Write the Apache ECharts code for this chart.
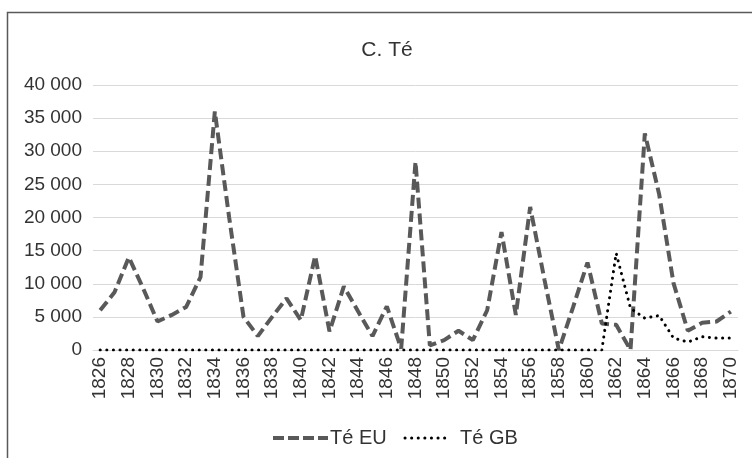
<!DOCTYPE html>
<html>
<head>
<meta charset="utf-8">
<script src="https://cdn.jsdelivr.net/npm/echarts@6/dist/echarts.min.js"></script>
<style>
html,body{margin:0;padding:0;background:#fff;}
#chart{width:752px;height:458px;}
</style>
</head>
<body>
<div id="chart"></div>
<script>
const years = [];
for (let y = 1826; y <= 1870; y++) years.push(String(y));

const teEU = [6000, 8700, 14000, 9300, 4300, 5300, 6500, 11000, 36000, 20000,
  5000, 2100, 5000, 7800, 4500, 14200, 2800, 9600, 5800, 2100,
  6600, 200, 28400, 700, 1500, 2900, 1500, 6000, 17800, 5300,
  21600, 10600, 0, 6500, 13200, 4000, 3800, 0, 32700, 23500,
  10100, 2900, 4100, 4300, 5800];

const teGB = [0, 0, 0, 0, 0, 0, 0, 0, 0, 0,
  0, 0, 0, 0, 0, 0, 0, 0, 0, 0,
  0, 0, 0, 0, 0, 0, 0, 0, 0, 0,
  0, 0, 0, 0, 0, 0, 14600, 6300, 4800, 5200,
  1800, 1200, 2000, 1800, 1800];

const seriesNames = ['Té EU', 'Té GB'];
const titleText = 'C. Té';

const font = 'Liberation Sans, Arial, sans-serif';
const euStyle = {color: '#595959', width: 4, dash: [11, 5]};
const gbStyle = {color: '#000', width: 3, dash: [0.1, 6.5]};

const chart = echarts.init(document.getElementById('chart'), null, {renderer: 'canvas'});
chart.setOption({
  animation: false,
  backgroundColor: '#fff',
  title: {
    text: titleText,
    left: 382, top: 35, textAlign: 'center',
    textStyle: {fontFamily: font, fontSize: 21, fontWeight: 'normal', color: '#333'}
  },
  grid: {left: 93, right: 14, top: 85, bottom: 108, containLabel: false},
  xAxis: {
    type: 'category',
    data: years,
    boundaryGap: true,
    axisLine: {show: true, lineStyle: {color: '#d9d9d9', width: 1}},
    axisTick: {show: false},
    axisLabel: {interval: 1, rotate: 90, margin: 7, fontFamily: font, fontSize: 19, color: '#333'}
  },
  yAxis: {
    type: 'value',
    min: 0, max: 40000, interval: 5000,
    axisLine: {show: false},
    axisTick: {show: false},
    splitLine: {lineStyle: {color: '#d9d9d9', width: 1}},
    axisLabel: {
      margin: 11, fontFamily: font, fontSize: 19, color: '#333',
      formatter: v => v === 0 ? '0' : String(v).replace(/\B(?=(\d{3})+(?!\d))/g, ' ')
    }
  },
  series: [
    {
      name: seriesNames[0], type: 'line', data: teEU,
      symbol: 'none', showSymbol: false,
      lineStyle: {color: euStyle.color, width: euStyle.width, type: euStyle.dash, cap: 'butt'}
    },
    {
      name: seriesNames[1], type: 'line', data: teGB,
      symbol: 'none', showSymbol: false, z: 3,
      lineStyle: {color: gbStyle.color, width: gbStyle.width, type: gbStyle.dash, cap: 'round'}
    }
  ],
  graphic: [
    {
      type: 'rect', silent: true, z: -1,
      shape: {x: 7.5, y: 12.5, width: 760, height: 460},
      style: {fill: null, stroke: '#595959', lineWidth: 1.5}
    },
    {
      type: 'line', silent: true,
      shape: {x1: 273, y1: 438, x2: 328, y2: 438},
      style: {stroke: euStyle.color, lineWidth: euStyle.width, lineDash: [11, 4]}
    },
    {
      type: 'text', silent: true, x: 330, y: 438,
      style: {text: seriesNames[0], font: '20px ' + font, fill: '#333', verticalAlign: 'middle', align: 'left'}
    },
    {
      type: 'line', silent: true,
      shape: {x1: 405, y1: 438, x2: 447, y2: 438},
      style: {stroke: gbStyle.color, lineWidth: gbStyle.width, lineDash: [0.1, 6.5], lineCap: 'round'}
    },
    {
      type: 'text', silent: true, x: 460, y: 438,
      style: {text: seriesNames[1], font: '20px ' + font, fill: '#333', verticalAlign: 'middle', align: 'left'}
    }
  ]
});
</script>
</body>
</html>
